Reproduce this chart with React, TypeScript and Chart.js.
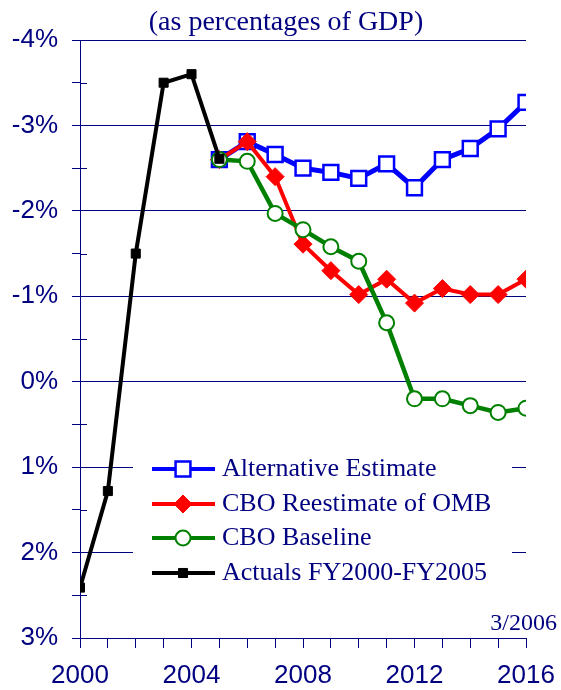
import React, { useEffect, useRef } from 'react';
import { Chart, registerables } from 'chart.js';

Chart.register(...registerables);

const NAVY = '#000080';
const titleText = '(as percentages of GDP)';
const dateNote = '3/2006';

const actualYears = [2000, 2001, 2002, 2003, 2004, 2005];
const actualValues = [2.41, 1.28, -1.5, -3.5, -3.6, -2.61];

const projYears = [2005, 2006, 2007, 2008, 2009, 2010, 2011, 2012, 2013, 2014, 2015, 2016];
const altValues = [-2.6, -2.81, -2.66, -2.5, -2.45, -2.38, -2.55, -2.27, -2.6, -2.73, -2.96, -3.27];
const reestValues = [-2.6, -2.81, -2.4, -1.61, -1.3, -1.02, -1.2, -0.92, -1.09, -1.02, -1.02, -1.2];
const baselineValues = [-2.6, -2.58, -1.97, -1.78, -1.58, -1.41, -0.69, 0.2, 0.2, 0.28, 0.36, 0.31];

const seriesLabels = [
  'Alternative Estimate',
  'CBO Reestimate of OMB',
  'CBO Baseline',
  'Actuals FY2000-FY2005',
];
const xLabelYears = [2000, 2004, 2008, 2012, 2016];

const toPoints = (xs: number[], ys: number[]) => xs.map((x, i) => ({ x, y: ys[i] }));

const STYLES = [
  { color: '#0000FF', width: 5, style: 'rect', radius: 10.5, fill: '#FFFFFF', bw: 2.5 },
  { color: '#FF0000', width: 4, style: 'rectRot', radius: 9, fill: '#FF0000', bw: 1 },
  { color: '#008000', width: 4.5, style: 'circle', radius: 7.5, fill: '#FFFFFF', bw: 2 },
  { color: '#000000', width: 4, style: 'rect', radius: 6.4, fill: '#000000', bw: 1 },
];

function drawMarker(ctx: CanvasRenderingContext2D, s: any, x: number, y: number) {
  ctx.save();
  ctx.fillStyle = s.fill;
  ctx.strokeStyle = s.color;
  ctx.lineWidth = s.bw;
  ctx.beginPath();
  if (s.style === 'rect') {
    const h = Math.SQRT1_2 * s.radius;
    ctx.rect(x - h, y - h, 2 * h, 2 * h);
  } else if (s.style === 'rectRot') {
    const r = s.radius;
    ctx.moveTo(x - r, y);
    ctx.lineTo(x, y - r);
    ctx.lineTo(x + r, y);
    ctx.lineTo(x, y + r);
    ctx.closePath();
  } else {
    ctx.arc(x, y, s.radius, 0, Math.PI * 2);
  }
  ctx.fill();
  ctx.stroke();
  ctx.restore();
}

const decorPlugin = {
  id: 'decor',
  beforeDatasetsDraw(chart: any) {
    const ctx: CanvasRenderingContext2D = chart.ctx;
    const { left } = chart.chartArea;
    const y = chart.scales.y;
    ctx.save();
    ctx.strokeStyle = NAVY;
    ctx.lineWidth = 1;
    for (let v = -3.5; v < 3; v += 1) {
      const py = Math.round(y.getPixelForValue(v)) + 0.5;
      ctx.beginPath();
      ctx.moveTo(left, py);
      ctx.lineTo(left + 7, py);
      ctx.stroke();
    }
    // legend
    ctx.fillStyle = '#FFFFFF';
    ctx.fillRect(133, 452, 379, 140);
    const rows = [469, 504, 538, 573];
    rows.forEach((ry, i) => {
      const s = STYLES[i];
      ctx.strokeStyle = s.color;
      ctx.lineWidth = 4;
      ctx.beginPath();
      ctx.moveTo(152, ry);
      ctx.lineTo(215, ry);
      ctx.stroke();
      drawMarker(ctx, s, 183, ry);
      ctx.fillStyle = NAVY;
      ctx.font = '26px "Liberation Serif"';
      ctx.textAlign = 'left';
      ctx.textBaseline = 'middle';
      ctx.fillText(seriesLabels[i], 222, ry);
    });
    ctx.restore();
  },
  afterDraw(chart: any) {
    const ctx: CanvasRenderingContext2D = chart.ctx;
    ctx.save();
    ctx.fillStyle = NAVY;
    ctx.font = '28px "Liberation Serif"';
    ctx.textAlign = 'center';
    ctx.textBaseline = 'alphabetic';
    ctx.fillText(titleText, 286, 30);
    ctx.font = '24px "Liberation Serif"';
    ctx.textAlign = 'right';
    ctx.fillText(dateNote, 557, 630);
    ctx.restore();
  },
};

export default function App() {
  const ref = useRef<HTMLCanvasElement | null>(null);

  useEffect(() => {
    if (!ref.current) return;
    const seriesData = [
      toPoints(projYears, altValues),
      toPoints(projYears, reestValues),
      toPoints(projYears, baselineValues),
      toPoints(actualYears, actualValues),
    ];
    const chart = new Chart(ref.current, {
      type: 'line',
      data: {
        datasets: seriesData.map((d, i) => {
          const s = STYLES[i];
          return {
            label: seriesLabels[i],
            data: d,
            borderColor: s.color,
            borderWidth: s.width,
            pointStyle: s.style as any,
            pointRadius: s.radius,
            pointBackgroundColor: s.fill,
            pointBorderColor: s.color,
            pointBorderWidth: s.bw,
            tension: 0,
            fill: false,
            order: 4 - i,
          };
        }),
      },
      options: {
        animation: false,
        responsive: true,
        maintainAspectRatio: false,
        layout: { padding: { top: 40, right: 35, left: 0, bottom: 0 } },
        plugins: { legend: { display: false }, tooltip: { enabled: false }, title: { display: false } },
        scales: {
          x: {
            type: 'linear',
            min: 2000,
            max: 2016,
            ticks: {
              stepSize: 1,
              autoSkip: false,
              maxRotation: 0,
              callback: (v: any) => (xLabelYears.includes(Number(v)) ? String(v) : ''),
              font: { family: 'Liberation Sans', size: 26 },
              color: NAVY,
              padding: 12,
            },
            grid: { drawOnChartArea: false, tickLength: 10, tickColor: NAVY, color: NAVY },
            border: { color: NAVY, width: 1 },
            afterFit: (s: any) => {
              s.height = 52;
              s.paddingLeft = 0;
              s.paddingRight = 0;
            },
          },
          y: {
            type: 'linear',
            reverse: true,
            min: -4,
            max: 3,
            ticks: {
              stepSize: 0.5,
              autoSkip: false,
              callback: (v: any) => (Number.isInteger(Number(v)) ? `${v}%` : ''),
              font: { family: 'Liberation Sans', size: 26 },
              color: NAVY,
              padding: 14,
            },
            grid: {
              color: (c: any) => (c.tick && Number.isInteger(c.tick.value) ? NAVY : 'rgba(0,0,0,0)'),
              tickColor: NAVY,
              tickLength: 8,
              lineWidth: 1,
            },
            border: { color: NAVY, width: 1 },
            afterFit: (s: any) => {
              s.width = 80;
              s.paddingTop = 0;
              s.paddingBottom = 0;
            },
          },
        },
      },
      plugins: [decorPlugin],
    });
    return () => chart.destroy();
  }, []);

  return (
    <div style={{ position: 'fixed', left: 0, top: 0, width: 561, height: 690, background: '#fff' }}>
      <canvas ref={ref} />
    </div>
  );
}
